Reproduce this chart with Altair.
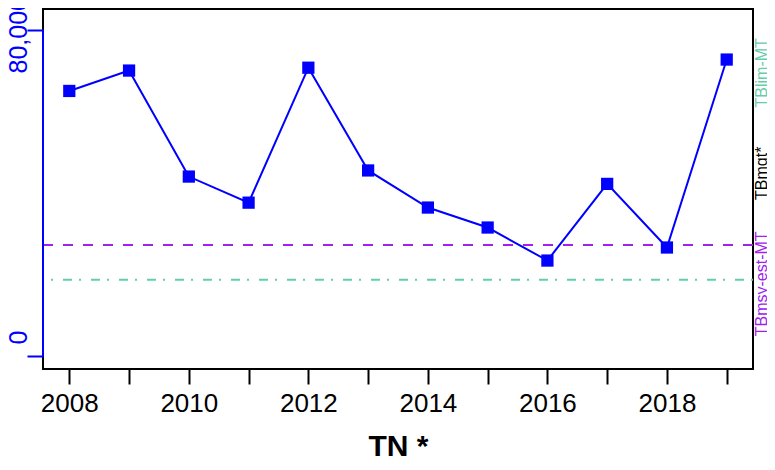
import altair as alt
import pandas as pd

# ---- data ----
years = [2008, 2009, 2010, 2011, 2012, 2013, 2014, 2015, 2016, 2017, 2018, 2019]
values = [65000, 70000, 44000, 37600, 70700, 45500, 36400, 31500, 23400, 42200, 26600, 72700]

ref_names = ["TBmsy-est-MT", "TBlim-MT"]
ref_values = [27200, 18700]
ref_colors = ["#A020F0", "#66CDAA"]

side_labels = ["TBlim-MT", "TBmgt*", "TBmsy-est-MT"]
side_label_pos = [69450, 44800, 17700]
side_label_colors = ["#66CDAA", "#000000", "#A020F0"]

y_ticks = [0, 80000]
x_ticks = years
chart_title = "TN *"

FONT = "Liberation Sans"

df = pd.DataFrame({"year": years, "value": values})
df_ref = pd.DataFrame({"name": ref_names, "value": ref_values, "color": ref_colors})
df_side = pd.DataFrame({"label": side_labels, "pos": side_label_pos, "color": side_label_colors})
df_yaxis = pd.DataFrame({"lo": [min(y_ticks)], "hi": [max(y_ticks)]})

W, H = 710, 360

xscale = alt.Scale(domain=[2007.56, 2019.44], nice=False, zero=False)
yscale = alt.Scale(domain=[-3200, 85100], nice=False, zero=False)

x_axis = alt.Axis(
    values=x_ticks, format="d",
    labelExpr="datum.value % 2 == 0 ? datum.label : ''",
    tickSize=15, tickWidth=2, tickColor="black",
    domain=False, grid=False,
    labelFont=FONT, labelFontSize=26, labelColor="black",
    labelBaseline="alphabetic", labelPadding=27,
    labelOverlap=False, labelFlush=False,
    title=chart_title, titleFont=FONT, titleFontSize=30, titleFontWeight="bold",
    titleColor="black", titleX=W / 2, titleY=86, titleBaseline="alphabetic",
    titleAlign="center",
)

y_axis = alt.Axis(
    values=y_ticks, format=",d",
    tickSize=16, tickWidth=2, tickColor="blue",
    domain=False, grid=False,
    labelAngle=270, labelAlign="center", labelBaseline="alphabetic",
    labelPadding=1, labelFont=FONT, labelFontSize=25, labelColor="blue",
    labelOverlap=False, labelFlush=False,
    labelOffset={"condition": {"test": "datum.value == 0", "value": -19}, "value": 5},
    title=None,
)

base = alt.Chart(df)

line = base.mark_line(color="blue", strokeWidth=2).encode(
    x=alt.X("year:Q", scale=xscale, axis=x_axis),
    y=alt.Y("value:Q", scale=yscale, axis=y_axis),
)

pts = base.mark_point(shape="square", filled=True, size=150, color="blue", opacity=1).encode(
    x=alt.X("year:Q", scale=xscale, axis=x_axis),
    y=alt.Y("value:Q", scale=yscale, axis=y_axis),
)

msy = alt.Chart(df_ref.iloc[[0]]).mark_rule(
    color=ref_colors[0], strokeWidth=2, strokeDash=[10, 10]
).encode(y=alt.Y("value:Q", scale=yscale, axis=y_axis))

lim = alt.Chart(df_ref.iloc[[1]]).mark_rule(
    color=ref_colors[1], strokeWidth=2, strokeDash=[2, 7, 9, 10]
).encode(y=alt.Y("value:Q", scale=yscale, axis=y_axis))

yaxis_line = alt.Chart(df_yaxis).mark_rule(color="blue", strokeWidth=2).encode(
    x=alt.value(0),
    y=alt.Y("lo:Q", scale=yscale, axis=y_axis),
    y2="hi:Q",
)

side = alt.Chart(df_side).mark_text(
    angle=270, fontSize=16, font=FONT, align="center", baseline="alphabetic"
).encode(
    x=alt.value(W + 14),
    y=alt.Y("pos:Q", scale=yscale, axis=y_axis),
    text="label:N",
    color=alt.Color("color:N", scale=None),
)

chart = alt.layer(msy, lim, line, pts, yaxis_line, side).properties(
    width=W, height=H,
    background="white",
    autosize=alt.AutoSizeParams(type="none"),
    padding={"left": 35, "top": 1, "right": 759 - 35 - W, "bottom": 89},
).configure_view(stroke="black", strokeWidth=2)

chart.save("out.html", embed_options={"renderer": "svg", "actions": False})
